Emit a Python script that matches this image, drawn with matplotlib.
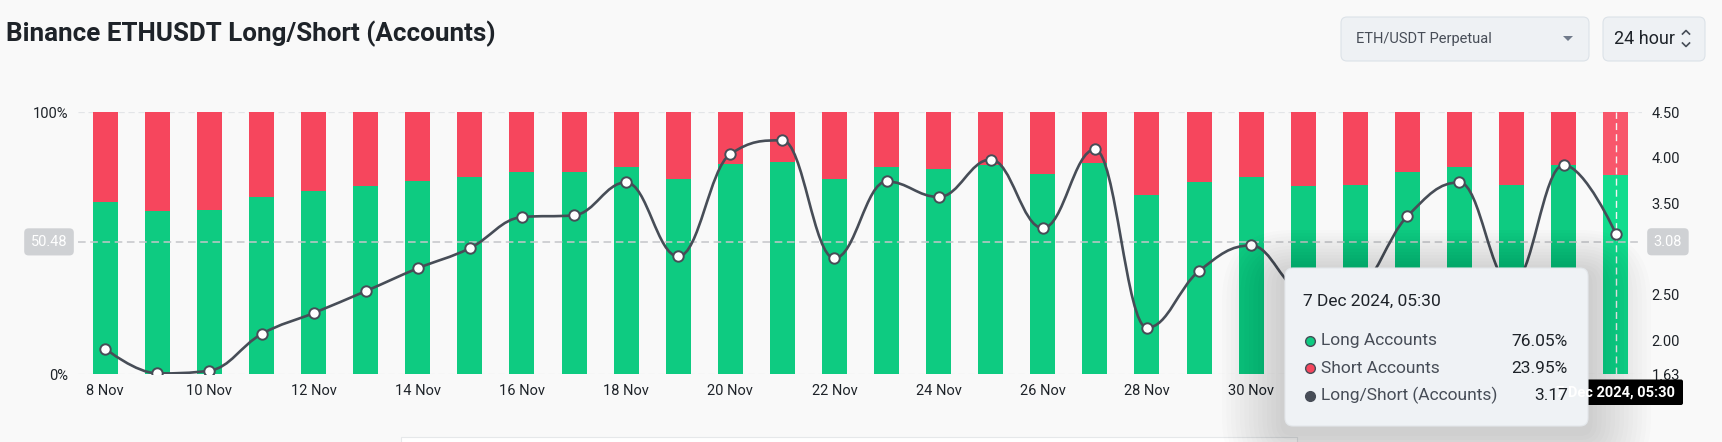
import numpy as np
import matplotlib.pyplot as plt
from matplotlib.path import Path
from matplotlib.patches import PathPatch, FancyBboxPatch, Rectangle, Polygon

plt.rcParams['font.family'] = ['Roboto', 'DejaVu Sans']

# data (8 Nov - 7 Dec 2024)
days = ['8 Nov', '9 Nov', '10 Nov', '11 Nov', '12 Nov', '13 Nov', '14 Nov', '15 Nov',
        '16 Nov', '17 Nov', '18 Nov', '19 Nov', '20 Nov', '21 Nov', '22 Nov', '23 Nov',
        '24 Nov', '25 Nov', '26 Nov', '27 Nov', '28 Nov', '29 Nov', '30 Nov', '1 Dec',
        '2 Dec', '3 Dec', '4 Dec', '5 Dec', '6 Dec', '7 Dec']
long_pct = [65.7, 62.1, 62.5, 67.5, 69.8, 71.7, 73.7, 75.1, 77.0, 77.2,
            78.9, 74.5, 80.2, 80.8, 74.3, 78.9, 78.2, 79.9, 76.5, 80.4,
            68.2, 73.4, 75.1, 71.8, 72.0, 77.0, 78.9, 72.3, 79.7, 76.05]
short_pct = [100 - v for v in long_pct]
ratio = [1.91, 1.64, 1.67, 2.07, 2.30, 2.54, 2.79, 3.01, 3.35, 3.37,
         3.73, 2.92, 4.04, 4.19, 2.90, 3.74, 3.57, 3.98, 3.23, 4.09,
         2.14, 2.76, 3.04, 2.55, 2.58, 3.36, 3.73, 2.61, 3.92, 3.17]
right_ticks = [1.63, 2.00, 2.50, 3.50, 4.00, 4.50]
cross_pct = 50.48
cross_ratio = 3.08
tip_title = '7 Dec 2024, 05:30'
tip_rows = [('Long Accounts', '76.05%'), ('Short Accounts', '23.95%'), ('Long/Short (Accounts)', '3.17')]

GREEN = '#0ECB81'
RED = '#F6465D'
LINE = '#474D57'
TXT = '#1E2329'
BG = '#F9F9F9'


def spline_path(xs, ys, smoothing=1.5):
    # highcharts-like spline, flat tangents at local extremes
    n = len(xs)
    lc, rc = [None] * n, [None] * n
    for i in range(n):
        x, y = xs[i], ys[i]
        if 0 < i < n - 1:
            d = smoothing + 1
            lx = (smoothing * x + xs[i - 1]) / d
            ly = (smoothing * y + ys[i - 1]) / d
            rx = (smoothing * x + xs[i + 1]) / d
            ry = (smoothing * y + ys[i + 1]) / d
            corr = (ry - ly) * (rx - x) / (rx - lx) + y - ry
            ly += corr
            ry += corr
            if ly > ys[i - 1] and ly > y:
                ly = max(ys[i - 1], y); ry = 2 * y - ly
            elif ly < ys[i - 1] and ly < y:
                ly = min(ys[i - 1], y); ry = 2 * y - ly
            if ry > ys[i + 1] and ry > y:
                ry = max(ys[i + 1], y); ly = 2 * y - ry
            elif ry < ys[i + 1] and ry < y:
                ry = min(ys[i + 1], y); ly = 2 * y - ry
            lc[i], rc[i] = (lx, ly), (rx, ry)
        else:
            lc[i] = rc[i] = (x, y)
    verts = [(xs[0], ys[0])]
    codes = [Path.MOVETO]
    for i in range(1, n):
        verts += [rc[i - 1], lc[i], (xs[i], ys[i])]
        codes += [Path.CURVE4] * 3
    return Path(verts, codes)


fig = plt.figure(figsize=(17.22, 4.42), dpi=100, facecolor=BG)
ax = fig.add_axes([0.0453, 0.1532, 0.9082, 0.5934])
ax.set_facecolor(BG)
x = np.arange(len(days))
n = len(days)

green_cols = [GREEN] * (n - 1) + ['#12DC8D']
red_cols = [RED] * (n - 1) + ['#F8566B']
ax.bar(x, long_pct, width=0.48, color=green_cols, zorder=2)
ax.bar(x, short_pct, width=0.48, bottom=long_pct, color=red_cols, zorder=2)

ax.set_xlim(-0.524, n - 1 + 0.503)
ax.set_ylim(0, 100)
ax.set_yticks([0, 100])
ax.set_yticklabels(['0%', '100%'])
# labels from 2 Dec on sit under the tooltip in the reference
ax.set_xticks(x[:24:2])
ax.set_xticklabels(days[:24:2])
ax.tick_params(length=0, labelsize=10.5, labelcolor=TXT)
ax.tick_params(axis='y', pad=7)
ax.tick_params(axis='x', pad=7)
for s in ax.spines.values():
    s.set_visible(False)
for v in (0, 100):
    ax.axhline(v, color='#E3E5E8', lw=0.9, ls=(0, (5, 3)), zorder=1)

# crosshair
ax.axhline(cross_pct, color='#C4C6C9', lw=1.1, ls=(0, (5, 3)), zorder=3)
ax.axvline(x[-1], color='#F4F4F4', lw=1.0, ls=(0, (5, 3)), zorder=3)

ax2 = ax.twinx()
ax2.set_ylim(1.63, 4.50)
ax2.set_yticks(right_ticks)
ax2.set_yticklabels([f'{v:.2f}' for v in right_ticks])
ax2.tick_params(length=0, labelsize=10.5, labelcolor=TXT, pad=7)
for s in ax2.spines.values():
    s.set_visible(False)
ax2.add_patch(PathPatch(spline_path(list(x), ratio), fill=False, edgecolor=LINE, lw=1.9, zorder=4))
ax2.plot(x, ratio, ls='none', marker='o', ms=7.5, mfc='white', mec=LINE, mew=1.4, zorder=5)

# crosshair value labels
ax.annotate(f'{cross_pct:.2f}', xy=(0, cross_pct), xycoords=('axes fraction', 'data'),
            xytext=(-29, 0), textcoords='offset pixels', ha='center', va='center',
            fontsize=10.5, color='white',
            bbox=dict(boxstyle='round,pad=0.45,rounding_size=0.3', fc='#CFD1D4', ec='none'))
ax2.annotate(f'{cross_ratio:.2f}', xy=(1, cross_ratio), xycoords=('axes fraction', 'data'),
             xytext=(26, 0), textcoords='offset pixels', ha='center', va='center',
             fontsize=10.5, color='white',
             bbox=dict(boxstyle='round,pad=0.45,rounding_size=0.3', fc='#CFD1D4', ec='none'))

# overlay in pixel coordinates for header widgets and tooltip
ov = fig.add_axes([0, 0, 1, 1], zorder=10)
ov.set_xlim(0, 1722)
ov.set_ylim(442, 0)
ov.axis('off')
ov.patch.set_alpha(0)

ov.text(6, 34, 'Binance ETHUSDT Long/Short (Accounts)', fontsize=18.7, weight='bold',
        color=TXT, va='center', ha='left')

ov.add_patch(FancyBboxPatch((1341, 17), 248, 44, boxstyle='round,pad=0,rounding_size=6',
                            fc='#EEF1F4', ec='#DCE2E8', lw=0.8))
ov.text(1356, 38.5, 'ETH/USDT Perpetual', fontsize=10.5, color='#474D57', va='center')
ov.add_patch(Polygon([[1563, 36], [1573, 36], [1568, 41]], closed=True, fc='#707A8A', ec='none'))
ov.add_patch(FancyBboxPatch((1603, 17), 102, 44, boxstyle='round,pad=0,rounding_size=6',
                            fc='#EEF1F4', ec='#DCE2E8', lw=0.8))
ov.text(1614, 39, '24 hour', fontsize=13, color=TXT, va='center')
ov.plot([1682.5, 1686, 1689.5], [34, 30.5, 34], color='#474D57', lw=1.2)
ov.plot([1682.5, 1686, 1689.5], [43, 46.5, 43], color='#474D57', lw=1.2)

# bottom panel edge
ov.add_patch(Rectangle((401, 436.5), 896, 20, fc='white', ec='#E6E8EA', lw=0.8))

# x crosshair label (mostly hidden by the tooltip)
ov.add_patch(FancyBboxPatch((1545, 379.5), 138, 25.5, boxstyle='round,pad=0,rounding_size=2',
                            fc='black', ec='none'))
ov.text(1675, 392.5, tip_title, fontsize=10.5, color='white', ha='right', va='center',
        weight='bold')

# tooltip shadow + box
tx, ty, tw, th = 1285, 268, 303, 158
for k in range(14, 0, -1):
    g = k * 4.5
    ov.add_patch(FancyBboxPatch((tx - g, ty - g * 0.7 + 6), tw + 2 * g, th + g * 1.6,
                                boxstyle=f'round,pad=0,rounding_size={8 + g}',
                                fc='black', ec='none', alpha=0.013))
ov.add_patch(FancyBboxPatch((tx, ty), tw, th, boxstyle='round,pad=0,rounding_size=8',
                            fc='#EFF2F5', ec='#E3E7EB', lw=0.8))
ov.text(tx + 18, 301, tip_title, fontsize=12.5, color=TXT, va='center')
dot_cols = [GREEN, RED, LINE]
for i, (lab, val) in enumerate(tip_rows):
    yy = 341 + i * 27.3
    ov.plot(tx + 25, yy, marker='o', ms=7, mfc=dot_cols[i], mec='#474D57', mew=1.0)
    ov.text(tx + 36, yy, lab, fontsize=12.5, color='#474D57', va='center')
    ov.text(tx + 283, yy, val, fontsize=12.5, color=TXT, va='center', ha='right')

fig.savefig('out.png', dpi=100, facecolor=BG)
